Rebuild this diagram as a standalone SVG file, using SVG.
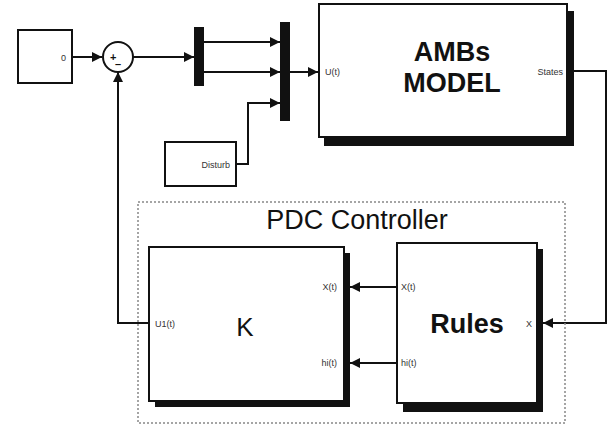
<svg xmlns="http://www.w3.org/2000/svg" width="614" height="429" viewBox="0 0 614 429">
<defs>
<marker id="arr" markerWidth="10" markerHeight="10" refX="10" refY="5" orient="auto" markerUnits="userSpaceOnUse">
<path d="M0,0 L10,5 L0,10 z" fill="#111"/>
</marker>
<style>
.blk{fill:#fff;stroke:#111;stroke-width:2}
.shd{fill:#111}
.ln{fill:none;stroke:#111;stroke-width:2;marker-end:url(#arr)}
.pl{fill:none;stroke:#111;stroke-width:2}
.sm{font-family:"Liberation Sans",Arial,sans-serif;font-size:9px;fill:#333}
.big{font-family:"Liberation Sans",Arial,sans-serif;font-weight:bold;fill:#111}
</style>
</defs>
<rect width="614" height="429" fill="#fff"/>
<g id="connectors">
<path class="ln" d="M72,57 H102"/>
<path class="ln" d="M133,57 H194"/>
<path class="ln" d="M204,42 H280"/>
<path class="ln" d="M204,72 H280"/>
<path class="ln" d="M236,164 H248 V103 H280"/>
<path class="ln" d="M290,72 H318"/>
<path class="ln" d="M574,71 H606 V323 H543"/>
<path class="ln" d="M397,287 H350"/>
<path class="ln" d="M397,363 H350"/>
<path class="ln" d="M149,323 H118 V72"/>
</g>
<g id="const">
<rect class="blk" x="18" y="30" width="54" height="53"/>
<text class="sm" x="66" y="61" text-anchor="end">0</text>
</g>
<g id="sum">
<circle cx="118" cy="57" r="15" fill="#fff" stroke="#111" stroke-width="2"/>
<text x="110" y="61" font-family="Liberation Sans,Arial,sans-serif" font-size="11" font-weight="bold" fill="#111">+</text>
<text x="115" y="68" font-family="Liberation Sans,Arial,sans-serif" font-size="11" font-weight="bold" fill="#111">–</text>
</g>
<g id="demux">
<rect class="shd" x="194" y="27" width="10" height="59"/>
</g>
<g id="mux">
<rect class="shd" x="280" y="22" width="10" height="99"/>
</g>
<g id="disturb">
<rect class="blk" x="165" y="142" width="71" height="44"/>
<text class="sm" x="230" y="168" text-anchor="end">Disturb</text>
</g>
<g id="ambs">
<rect class="shd" x="324" y="11" width="250" height="135"/>
<rect class="blk" x="319" y="4" width="248" height="133"/>
<text class="big" x="452" y="61" font-size="27" text-anchor="middle">AMBs</text>
<text class="big" x="452" y="92" font-size="27" text-anchor="middle">MODEL</text>
<text class="sm" x="325" y="75">U(t)</text>
<text class="sm" x="563" y="75" text-anchor="end">States</text>
</g>
<g id="pdc">
<rect x="138" y="202" width="427" height="221" fill="none" stroke="#888" stroke-width="1.5" stroke-dasharray="2,2"/>
<text x="357" y="229" font-family="Liberation Sans,Arial,sans-serif" font-size="27" fill="#111" text-anchor="middle">PDC Controller</text>
</g>
<g id="k">
<rect class="shd" x="155" y="253" width="195" height="154"/>
<rect class="blk" x="149" y="247" width="195" height="154"/>
<text x="245" y="336" font-family="Liberation Sans,Arial,sans-serif" font-size="26" fill="#111" text-anchor="middle">K</text>
<text class="sm" x="155" y="327">U1(t)</text>
<text class="sm" x="337" y="290" text-anchor="end">X(t)</text>
<text class="sm" x="337" y="366" text-anchor="end">hi(t)</text>
</g>
<g id="rules">
<rect class="shd" x="403" y="249" width="140" height="163"/>
<rect class="blk" x="397" y="243" width="140" height="160"/>
<text class="big" x="467" y="333" font-size="27" text-anchor="middle">Rules</text>
<text class="sm" x="401" y="290">X(t)</text>
<text class="sm" x="401" y="366">hi(t)</text>
<text class="sm" x="532" y="327" text-anchor="end">X</text>
</g>
</svg>
